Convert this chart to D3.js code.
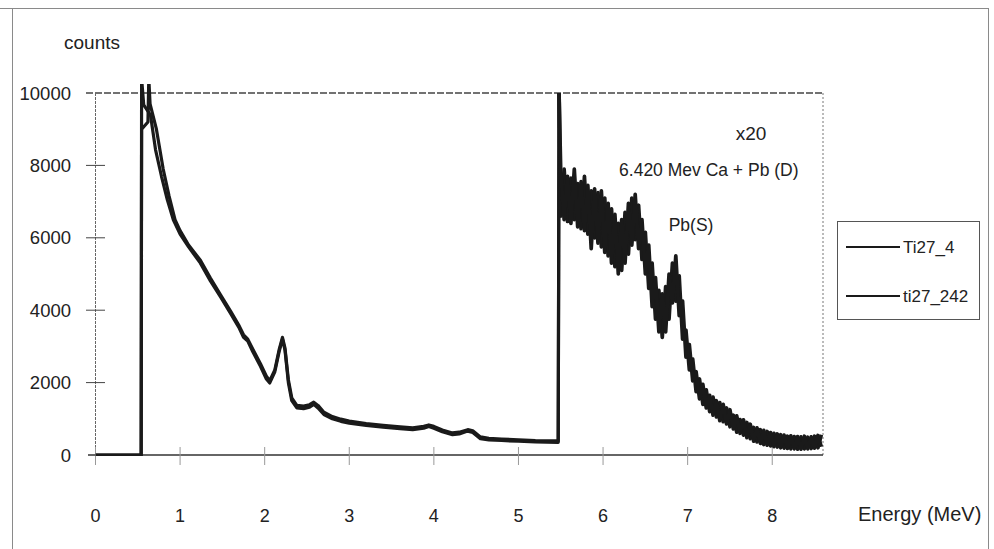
<!DOCTYPE html>
<html><head><meta charset="utf-8">
<script src="https://cdnjs.cloudflare.com/ajax/libs/d3/7.8.5/d3.min.js"></script>
<style>body{margin:0;background:#fff}svg{display:block}text{font-family:"Liberation Sans",Arial,sans-serif;fill:#222}</style>
</head><body>
<script>
// ---- data ----
const seriesNames = ["Ti27_4", "ti27_242"];
const yTicks = [0, 2000, 4000, 6000, 8000, 10000];
const xTicks = [0, 1, 2, 3, 4, 5, 6, 7, 8];
const annotations = [
  {text: "x20", e: 7.75, v: 8900},
  {text: "6.420 Mev Ca + Pb (D)", e: 7.25, v: 7870},
  {text: "Pb(S)", e: 7.04, v: 6350}
];
// low-energy part (as measured)
const lowEnergyA = [0,0.54,0.545,0.57,0.65,0.71,0.78,0.85,0.92,1.00,1.10,1.24,1.36,1.48,1.60,1.70,1.75,1.80,1.86,1.95,2.02,2.06,2.12,2.17,2.21,2.24,2.28,2.32,2.38,2.46,2.53,2.58,2.63,2.70,2.80,2.90,3.00,3.20,3.40,3.60,3.75,3.88,3.94,4.00,4.10,4.22,4.30,4.40,4.46,4.55,4.65,4.80,5.00,5.20,5.47,5.48];
const lowCountsA = [0,0,10400,9670,9390,8430,7700,7040,6500,6100,5750,5300,4800,4360,3900,3500,3250,3150,2850,2450,2100,1990,2300,2850,3200,2900,2000,1500,1300,1280,1320,1400,1300,1120,1000,930,880,820,770,730,700,740,790,740,640,560,580,660,620,450,420,400,380,365,350,10000];
const lowEnergyB = [0,0.54,0.545,0.62,0.63,0.645,0.72,0.80,0.87,0.94,1.00,1.10,1.24,1.36,1.48,1.60,1.70,1.75,1.80,1.86,1.95,2.02,2.06,2.12,2.17,2.21,2.24,2.28,2.32,2.38,2.46,2.53,2.58,2.63,2.70,2.80,2.90,3.00,3.20,3.40,3.60,3.75,3.88,3.94,4.00,4.10,4.22,4.30,4.40,4.46,4.55,4.65,4.80,5.00,5.20,5.47,5.48];
const lowCountsB = [0,0,9000,9200,10400,9700,9000,7900,7150,6500,6200,5800,5380,4880,4420,3960,3560,3320,3200,2920,2520,2180,2050,2350,2900,3250,2950,2080,1580,1370,1350,1390,1460,1370,1180,1060,990,940,870,820,780,750,790,830,790,690,610,630,700,670,500,460,440,420,400,390,10000];
// x20 part (as measured)
const highEnergy = [5.48,5.50,5.54,5.58,5.62,5.66,5.70,5.74,5.78,5.82,5.86,5.90,5.94,5.98,6.02,6.06,6.10,6.14,6.18,6.22,6.26,6.30,6.34,6.38,6.42,6.46,6.50,6.54,6.58,6.62,6.66,6.70,6.74,6.78,6.82,6.86,6.90,6.94,6.98,7.02,7.06,7.10,7.14,7.18,7.22,7.26,7.30,7.34,7.38,7.42,7.46,7.50,7.54,7.58,7.62,7.66,7.70,7.74,7.78,7.82,7.86,7.90,7.94,7.98,8.02,8.06,8.10,8.14,8.18,8.22,8.26,8.30,8.34,8.38,8.42,8.46,8.50,8.54,8.58];
const highCountsA = [10000,7800,6500,7700,6400,7900,6300,7550,6200,7450,5700,7350,5850,7300,5600,6950,5300,6650,5000,6500,5300,6950,5800,7200,5700,6500,5000,5800,4100,4900,3400,4450,3400,5000,4200,5500,3850,4250,2700,3050,2050,2300,1550,1950,1300,1650,1100,1500,950,1400,860,1250,720,1080,600,970,480,850,380,750,320,680,270,620,230,580,200,550,180,530,170,510,160,520,170,500,190,540,230];
const highCountsB = [10000,6600,7900,6450,7650,6500,7500,6250,7700,6100,7300,6000,7250,5750,7100,5500,6800,5200,6400,5100,6700,5550,7100,5950,6900,5400,6150,4600,5300,3750,4550,3250,4650,3750,5300,4250,4950,3200,3450,2350,2650,1750,2100,1400,1800,1200,1600,1050,1450,920,1300,780,1100,630,980,550,900,450,760,360,700,290,650,250,600,220,560,190,520,170,510,160,500,170,490,180,520,200,560];

// ---- layout ----
const W = 994, H = 549;
const svg = d3.select("body").append("svg").attr("width", W).attr("height", H);
const x = d3.scaleLinear().domain([0, 8.6]).range([95.5, 823]);
const y = d3.scaleLinear().domain([0, 10000]).range([455, 93]);

// outer chart frame
const frame = svg.append("g").attr("stroke", "#8a8a8a").attr("stroke-width", 1).attr("fill", "none");
frame.append("line").attr("x1", 0).attr("x2", 988).attr("y1", 8.5).attr("y2", 8.5);
frame.append("line").attr("x1", 12.5).attr("x2", 12.5).attr("y1", 8).attr("y2", H);
frame.append("line").attr("x1", 988.5).attr("x2", 988.5).attr("y1", 8).attr("y2", H);

// plot area borders
svg.append("line").attr("x1", 86).attr("x2", x(8.6)).attr("y1", y(10000)).attr("y2", y(10000))
  .attr("stroke", "#444").attr("stroke-width", 1.3).attr("stroke-dasharray", "7,2");
svg.append("line").attr("x1", x(8.6)).attr("x2", x(8.6)).attr("y1", y(10000)).attr("y2", y(0))
  .attr("stroke", "#777").attr("stroke-width", 1).attr("stroke-dasharray", "2,2");
svg.append("line").attr("x1", x(0)).attr("x2", x(0)).attr("y1", y(10000)).attr("y2", y(0))
  .attr("stroke", "#666").attr("stroke-width", 1).attr("stroke-dasharray", "3,1");

// y axis ticks + labels
const yg = svg.append("g");
yTicks.forEach(t => {
  if (t !== 10000 && t !== 0) {
    yg.append("line").attr("x1", 86).attr("x2", 105).attr("y1", y(t)).attr("y2", y(t))
      .attr("stroke", "#444").attr("stroke-width", 1);
  }
  yg.append("text").attr("x", 71).attr("y", y(t)).attr("dy", "0.36em")
    .attr("text-anchor", "end").attr("font-size", 18.5).text(t);
});
// x axis
svg.append("line").attr("x1", 88).attr("x2", x(8.6)).attr("y1", y(0)).attr("y2", y(0))
  .attr("stroke", "#333").attr("stroke-width", 1.6);
const xg = svg.append("g");
xTicks.forEach(t => {
  xg.append("line").attr("x1", x(t)).attr("x2", x(t)).attr("y1", 447).attr("y2", 465)
    .attr("stroke", "#999").attr("stroke-width", 1);
  xg.append("text").attr("x", x(t)).attr("y", 516).attr("dy", "0.36em")
    .attr("text-anchor", "middle").attr("font-size", 18).attr("fill", "#333").text(t);
});

svg.append("text").attr("x", 64).attr("y", 49).attr("font-size", 19).text("counts");
svg.append("text").attr("x", 858).attr("y", 521).attr("font-size", 20).text("Energy (MeV)");

// data lines
svg.append("clipPath").attr("id", "clip").append("rect")
  .attr("x", x(0)).attr("y", 84).attr("width", x(8.6) - x(0) + 2).attr("height", y(0) - 84 + 1);
const line = d3.line().x(d => x(d[0])).y(d => y(d[1]));
const lowA = lowEnergyA.map((e, i) => [e, lowCountsA[i]]);
const lowB = lowEnergyB.map((e, i) => [e, lowCountsB[i]]);
const highA = highEnergy.map((e, i) => [e, highCountsA[i]]);
const highB = highEnergy.map((e, i) => [e, highCountsB[i]]);
const dg = svg.append("g").attr("clip-path", "url(#clip)").attr("fill", "none")
  .attr("stroke-linejoin", "round");
[lowB, lowA].forEach(s => dg.append("path").attr("d", line(s))
  .attr("stroke", "#1a1a1a").attr("stroke-width", 3.2));
[highB, highA].forEach(s => dg.append("path").attr("d", line(s))
  .attr("stroke", "#1a1a1a").attr("stroke-width", 3.7));

// annotations
const sizes = [19, 17.5, 17.5];
annotations.forEach((a, i) => {
  svg.append("text").attr("x", x(a.e)).attr("y", y(a.v)).attr("dy", "0.36em")
    .attr("text-anchor", "middle").attr("font-size", sizes[i]).text(a.text);
});

// legend
const lg = svg.append("g");
lg.append("rect").attr("x", 837.5).attr("y", 221.5).attr("width", 142).attr("height", 98)
  .attr("fill", "#fff").attr("stroke", "#555").attr("stroke-width", 1);
seriesNames.forEach((n, i) => {
  const ly = 247 + i * 49;
  lg.append("line").attr("x1", 846).attr("x2", 900).attr("y1", ly).attr("y2", ly)
    .attr("stroke", "#1a1a1a").attr("stroke-width", 2);
  lg.append("text").attr("x", 903).attr("y", ly).attr("dy", "0.36em")
    .attr("font-size", 17).text(n);
});
</script>
</body></html>
